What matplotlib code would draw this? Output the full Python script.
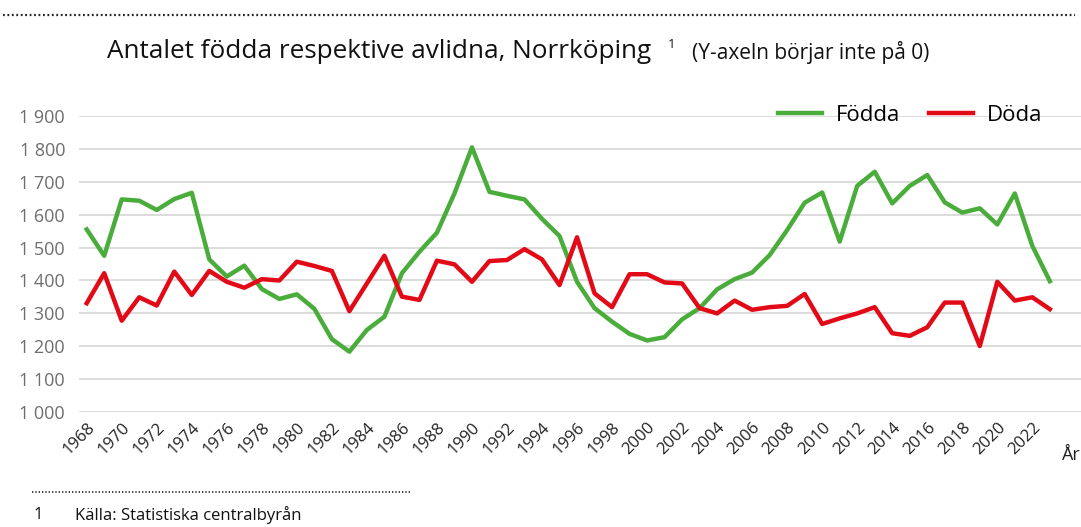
import matplotlib
matplotlib.use("Agg")
import matplotlib.pyplot as plt
from matplotlib.lines import Line2D
from matplotlib.ticker import FuncFormatter

plt.rcParams['font.family'] = ['Open Sans', 'DejaVu Sans']

years = list(range(1968, 2024))

fodda = [1555, 1475, 1646, 1642, 1614, 1647, 1666, 1464, 1412, 1445,
         1374, 1344, 1358, 1314, 1222, 1184, 1250, 1290, 1422, 1487,
         1545, 1664, 1804, 1669, 1657, 1646, 1587, 1535, 1396, 1316,
         1275, 1238, 1218, 1228, 1282, 1316, 1373, 1404, 1424, 1477,
         1553, 1636, 1667, 1518, 1687, 1730, 1634, 1687, 1720, 1637,
         1606, 1619, 1570, 1664, 1505, 1398]

doda = [1331, 1422, 1278, 1349, 1324, 1427, 1356, 1429, 1396, 1378,
        1404, 1400, 1457, 1444, 1429, 1307, 1391, 1475, 1351, 1341,
        1460, 1449, 1396, 1459, 1462, 1495, 1464, 1386, 1531, 1361,
        1319, 1419, 1419, 1394, 1391, 1316, 1300, 1339, 1311, 1319,
        1323, 1359, 1268, 1285, 1300, 1319, 1240, 1232, 1258, 1333,
        1333, 1201, 1396, 1339, 1349, 1313]

yticks = list(range(1000, 2000, 100))
xticks = list(range(1968, 2023, 2))

GREEN = '#4aad3b'
RED = '#e30a17'

fig = plt.figure(figsize=(10.81, 5.27), dpi=100)
ax = fig.add_axes([79/1081, 114.7/527, 1 - 79/1081, 296.6/527])

ax.plot(years, fodda, color=GREEN, lw=3.2, solid_joinstyle='round', label='Födda')
ax.plot(years, doda, color=RED, lw=3.2, solid_joinstyle='round', label='Döda')

ax.set_ylim(1000, 1900)
ax.set_xlim(1967.56, 2024.78)
ax.set_yticks(yticks)
ax.yaxis.set_major_formatter(FuncFormatter(lambda v, p: f"{int(v):,}".replace(",", " ")))
ax.set_xticks(xticks)
ax.set_xticklabels([str(y) for y in xticks], rotation=45, ha='right',
                   rotation_mode='anchor', fontsize=12, color='#222222')
ax.tick_params(axis='y', labelsize=13, labelcolor='#6e6e6e', length=0, pad=10)
ax.tick_params(axis='x', length=0, pad=5)
ax.grid(axis='y', color='#d9d9d9', lw=1.3)
ax.set_axisbelow(True)
for s in ax.spines.values():
    s.set_visible(False)

ax.legend(loc='center right', bbox_to_anchor=(0.961, 1.0), ncol=2, frameon=False,
          fontsize=16, handlelength=2.0, handletextpad=0.6, columnspacing=1.3,
          borderaxespad=0, borderpad=0)

fig.text(1062/1081, 1 - 455/527, 'År', fontsize=13, va='center', ha='left', color='#222222')

# header / footer
fig.add_artist(Line2D([3/1081, 1075/1081], [1 - 15/527, 1 - 15/527], color='#222222',
                      lw=1.6, ls=(0, (0.8, 1.2))))
fig.text(107/1081, 1 - 52/527, 'Antalet födda respektive avlidna, Norrköping',
         fontsize=18.8, va='center', color='#111111')
fig.text(668/1081, 1 - 44/527, '1', fontsize=9.5, va='center', color='#111111')
fig.text(692/1081, 1 - 53/527, '(Y-axeln börjar inte på 0)', fontsize=15,
         va='center', color='#111111')

fig.add_artist(Line2D([32/1081, 410/1081], [1 - 492/527, 1 - 492/527], color='#222222',
                      lw=1.2, ls=(0, (0.8, 1.2))))
fig.text(34/1081, 1 - 515/527, '1', fontsize=12, va='center', color='#111111')
fig.text(75/1081, 1 - 515/527, 'Källa: Statistiska centralbyrån', fontsize=12,
         va='center', color='#111111')

fig.savefig('out.png', dpi=100)
